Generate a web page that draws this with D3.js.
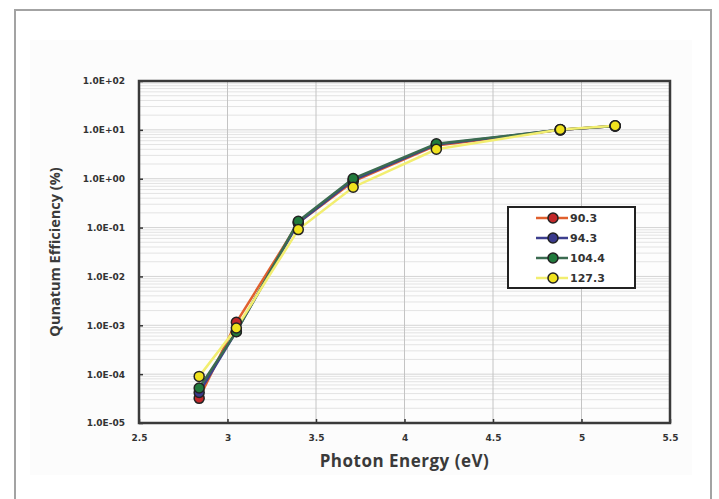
<!DOCTYPE html>
<html><head><meta charset="utf-8">
<script src="https://cdn.jsdelivr.net/npm/d3@7"></script>
<style>body{margin:0;background:#fff}svg{display:block}</style>
</head><body><svg id="c" width="719" height="499"></svg>
<script>
const energy = [2.84, 3.05, 3.40, 3.71, 4.18, 4.88, 5.19];
const seriesNames = ["90.3", "94.3", "104.4", "127.3"];
const qe90 = [3.2e-5, 1.15e-3, 0.125, 0.88, 4.8, 10.0, 12.0];
const qe94 = [4.2e-5, 7.5e-4, 0.125, 0.94, 5.0, 10.0, 12.0];
const qe104 = [5.2e-5, 7.4e-4, 0.135, 1.01, 5.2, 10.0, 12.0];
const qe127 = [9.0e-5, 8.8e-4, 0.091, 0.67, 4.0, 10.2, 12.1];
const xTicks = [2.5, 3, 3.5, 4, 4.5, 5, 5.5];
const yTickLabels = ["1.0E-05","1.0E-04","1.0E-03","1.0E-02","1.0E-01","1.0E+00","1.0E+01","1.0E+02"];
const lineColors = ["#e0602e", "#3d3f8e", "#3b6b50", "#f2ee70"];
const markerColors = ["#c2282a", "#3a3a8c", "#217a3c", "#f0e21e"];
const allSeries = [qe90, qe94, qe104, qe127];

const svg = d3.select("#c");
const L = 139, R = 670, T = 81, B = 423;
const x = d3.scaleLinear().domain([2.5, 5.5]).range([L, R]);
const y = d3.scaleLog().domain([1e-5, 1e2]).range([B, T]);

// outer frame
svg.append("rect").attr("x", 15).attr("y", 10).attr("width", 696).attr("height", 520)
  .attr("fill", "none").attr("stroke", "#a3a3a3").attr("stroke-width", 2);
svg.append("rect").attr("x", 30).attr("y", 40).attr("width", 662).attr("height", 435).attr("fill", "#fcfcfc");

// plot background
svg.append("rect").attr("x", L).attr("y", T).attr("width", R - L).attr("height", B - T).attr("fill", "#fdfdfd");

// minor horizontal grid
const minor = [];
for (let e = -5; e < 2; e++) for (let m = 2; m <= 9; m++) minor.push(m * Math.pow(10, e));
svg.append("g").selectAll("line").data(minor).join("line")
  .attr("x1", L).attr("x2", R).attr("y1", d => y(d)).attr("y2", d => y(d))
  .attr("stroke", "#e3e3e3").attr("stroke-width", 1);
// major horizontal grid
const majors = d3.range(-5, 3).map(e => Math.pow(10, e));
svg.append("g").selectAll("line").data(majors).join("line")
  .attr("x1", L).attr("x2", R).attr("y1", d => y(d)).attr("y2", d => y(d))
  .attr("stroke", "#d4d4d4").attr("stroke-width", 1);
// vertical grid
svg.append("g").selectAll("line").data(xTicks).join("line")
  .attr("x1", d => x(d)).attr("x2", d => x(d)).attr("y1", T).attr("y2", B)
  .attr("stroke", "#c4c4c4").attr("stroke-width", 1);

// axes
const xAxis = d3.axisBottom(x).tickValues(xTicks).tickSize(-4).tickPadding(12).tickFormat(d3.format("~g"));
const gx = svg.append("g").attr("transform", `translate(0,${B})`).call(xAxis);
const yAxis = d3.axisLeft(y).tickValues(majors).tickSize(-4).tickPadding(14).tickFormat((d, i) => yTickLabels[i]);
const gy = svg.append("g").attr("transform", `translate(${L},0)`).call(yAxis);
[gx, gy].forEach(g => {
  g.select(".domain").remove();
  g.selectAll(".tick line").attr("stroke", "#333").attr("stroke-width", 1.5);
  g.selectAll(".tick text").attr("fill", "#333").attr("font-family", "DejaVu Sans").attr("font-weight", "bold").attr("font-size", 9);
});

// lines and markers
const line = d3.line().x((d, i) => x(energy[i])).y(d => y(d));
allSeries.forEach((s, k) => {
  svg.append("path").datum(s).attr("d", line).attr("fill", "none")
    .attr("stroke", lineColors[k]).attr("stroke-width", 2.5);
});
allSeries.forEach((s, k) => {
  svg.append("g").selectAll("circle").data(s).join("circle")
    .attr("cx", (d, i) => x(energy[i])).attr("cy", d => y(d)).attr("r", 5)
    .attr("fill", markerColors[k]).attr("stroke", "#222").attr("stroke-width", 1.5);
});

// plot border
svg.append("rect").attr("x", L).attr("y", T).attr("width", R - L).attr("height", B - T)
  .attr("fill", "none").attr("stroke", "#3a3a3a").attr("stroke-width", 2.5);

// axis titles
svg.append("text").attr("x", (L + R) / 2).attr("y", 467).attr("text-anchor", "middle")
  .attr("font-family", "Open Sans").attr("font-weight", 700).attr("font-size", 17).attr("letter-spacing", 0.5)
  .attr("fill", "#3a3a3a").text("Photon Energy (eV)");
svg.append("text").attr("transform", `translate(60,${(T + B) / 2}) rotate(-90)`).attr("text-anchor", "middle")
  .attr("font-family", "Open Sans").attr("font-weight", 700).attr("font-size", 14.5).attr("fill", "#3a3a3a")
  .text("Qunatum Efficiency (%)");

// legend
const lg = svg.append("g");
lg.append("rect").attr("x", 508).attr("y", 207).attr("width", 127).attr("height", 81)
  .attr("fill", "#fff").attr("stroke", "#222").attr("stroke-width", 2);
seriesNames.forEach((n, k) => {
  const ly = 218 + k * 20;
  lg.append("line").attr("x1", 536).attr("x2", 568).attr("y1", ly).attr("y2", ly)
    .attr("stroke", lineColors[k]).attr("stroke-width", 2.5);
  lg.append("circle").attr("cx", 553).attr("cy", ly).attr("r", 5)
    .attr("fill", markerColors[k]).attr("stroke", "#222").attr("stroke-width", 1.5);
  lg.append("text").attr("x", 570).attr("y", ly + 4).attr("font-family", "DejaVu Sans").attr("font-weight", "bold")
    .attr("font-size", 11).attr("fill", "#333").text(n);
});
</script></body></html>
